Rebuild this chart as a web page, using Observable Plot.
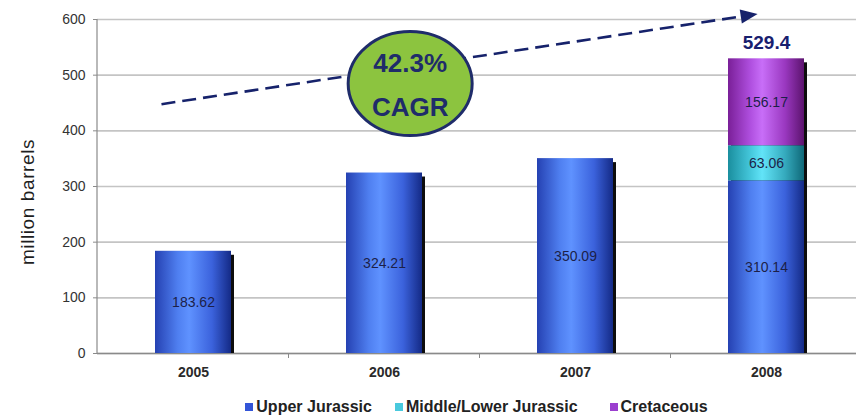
<!DOCTYPE html>
<html>
<head>
<meta charset="utf-8">
<script src="https://cdn.jsdelivr.net/npm/d3@7"></script>
<script src="https://cdn.jsdelivr.net/npm/@observablehq/plot@0.6"></script>
<style>
  body { margin: 0; background: #fff; font-family: "Liberation Sans", Arial, sans-serif; }
  #chart { width: 856px; height: 419px; overflow: hidden; }
  .legend { display: flex; justify-content: center; align-items: center; height: 24px; padding-left: 97px; font-weight: bold; font-size: 16px; color: #222; letter-spacing: 0px; }
  .legend span.item { display: flex; align-items: center; }
  .legend span.item:nth-child(2) { margin-left: 23px; }
  .legend span.item:nth-child(3) { margin-left: 32px; }
  .legend i { display: inline-block; width: 8px; height: 8px; margin-right: 3px; }
</style>
</head>
<body>
<div id="chart"></div>
<script>
// ---- data ----
const years = ["2005", "2006", "2007", "2008"];
const seriesNames = ["Upper Jurassic", "Middle/Lower Jurassic", "Cretaceous"];
const upperJurassic = [183.62, 324.21, 350.09, 310.14];
const middleLowerJurassic = [null, null, null, 63.06];
const cretaceous = [null, null, null, 156.17];
const totalLabels = [null, null, null, "529.4"];
const yTicks = [0, 100, 200, 300, 400, 500, 600];
const yLabel = "million barrels";
const cagrText = ["42.3%", "CAGR"];
// annotation anchors in data space (category + fraction of a category step, value)
const cagrBubble = {year: "2006", offset: 0.137, value: 484};
const cagrArrow = {fromYear: "2005", fromOffset: -0.165, fromValue: 447, toYear: "2008", toOffset: -0.044, toValue: 609};

// ---- styles ----
const gradients = {
  gUJ: ["#2541b2", "#4f7ff0", "#5f92ff", "#3b62dc", "#142a86"],
  gML: ["#1a8e9e", "#45c8dc", "#62e4f8", "#35aabd", "#0f6878"],
  gCr: ["#7a1f98", "#b050e0", "#c86ef8", "#9a38c0", "#5c136e"]
};
const seriesFill = ["url(#gUJ)", "url(#gML)", "url(#gCr)"];
const legendSwatch = ["#3355d8", "#49c9dd", "#9b3fcf"];
const navy = "#16226b";

const allSeries = [upperJurassic, middleLowerJurassic, cretaceous];
const rows = [];
const totals = [];
years.forEach((year, i) => {
  let base = 0;
  allSeries.forEach((arr, s) => {
    const v = arr[i];
    if (v != null) {
      rows.push({year, series: seriesNames[s], y1: base, y2: base + v, mid: base + v / 2, label: v.toFixed(2)});
      base += v;
    }
  });
  totals.push({year, total: base, label: totalLabels[i]});
});

const NS = "http://www.w3.org/2000/svg";
function el(tag, attrs, text) {
  const e = document.createElementNS(NS, tag);
  for (const k in attrs) e.setAttribute(k, attrs[k]);
  if (text != null) e.textContent = text;
  return e;
}

function defsMark() {
  const defs = el("defs", {});
  for (const id in gradients) {
    const g = el("linearGradient", {id, x1: "0", x2: "1", y1: "0", y2: "0"});
    const stops = gradients[id];
    const offs = [0, 0.3, 0.45, 0.75, 1];
    stops.forEach((c, j) => g.appendChild(el("stop", {offset: offs[j], "stop-color": c})));
    defs.appendChild(g);
  }
  return defs;
}

function bandInfo(x) {
  const bw = typeof x.bandwidth === "function" ? x.bandwidth() : (x.bandwidth || 0);
  const step = x(years[1]) - x(years[0]);
  const cx = (cat, off) => x(cat) + bw / 2 + off * step;
  return {bw, step, cx};
}

function axesMark(index, scales, values, dim) {
  const {x, y} = scales;
  const {step, cx} = bandInfo(x);
  const g = el("g", {});
  g.appendChild(el("line", {x1: dim.marginLeft, x2: dim.marginLeft, y1: y(600), y2: y(0), stroke: "#8a8a8a", "stroke-width": 1.2}));
  years.forEach((yr) => {
    const bx = cx(yr, 0) + step / 2;
    g.appendChild(el("line", {x1: bx, x2: bx, y1: y(0), y2: y(0) + 5, stroke: "#8a8a8a", "stroke-width": 1}));
  });
  // y-axis title
  const lx = dim.marginLeft - 70;
  const ly = (dim.marginTop + dim.height - dim.marginBottom) / 2 + 16;
  g.appendChild(el("text", {transform: `translate(${lx},${ly}) rotate(-90)`, "text-anchor": "middle", "dominant-baseline": "central", "font-size": 19, "letter-spacing": "0.6", fill: "#1e1e1e"}, yLabel));
  return g;
}

function cagrMark(index, scales, values, dim) {
  const {x, y} = scales;
  const {cx} = bandInfo(x);
  const g = el("g", {});
  const x1 = cx(cagrArrow.fromYear, cagrArrow.fromOffset), y1 = y(cagrArrow.fromValue);
  const x2 = cx(cagrArrow.toYear, cagrArrow.toOffset), y2 = y(cagrArrow.toValue);
  const a = Math.atan2(y2 - y1, x2 - x1);
  const head = 17, half = 7;
  const bx = x2 - head * Math.cos(a), by = y2 - head * Math.sin(a);
  g.appendChild(el("line", {x1, y1, x2: bx, y2: by, stroke: navy, "stroke-width": 2.6, "stroke-dasharray": "14,7"}));
  const px = -Math.sin(a) * half, py = Math.cos(a) * half;
  g.appendChild(el("polygon", {points: `${x2},${y2} ${bx + px},${by + py} ${bx - px},${by - py}`, fill: navy}));
  const ex = cx(cagrBubble.year, cagrBubble.offset), ey = y(cagrBubble.value);
  g.appendChild(el("ellipse", {cx: ex, cy: ey, rx: 62, ry: 52, fill: "#8cc43f", stroke: "#1f2c6a", "stroke-width": 3}));
  g.appendChild(el("text", {x: ex, y: ey - 21, "text-anchor": "middle", "dominant-baseline": "central", "font-size": 26, "font-weight": "bold", fill: "#1f2c6a"}, cagrText[0]));
  g.appendChild(el("text", {x: ex, y: ey + 23, "text-anchor": "middle", "dominant-baseline": "central", "font-size": 26, "font-weight": "bold", fill: "#1f2c6a"}, cagrText[1]));
  return g;
}

const chart = Plot.plot({
  width: 856,
  height: 395,
  marginLeft: 97,
  marginRight: 0,
  marginTop: 19,
  marginBottom: 42,
  style: {fontFamily: "'Liberation Sans', Arial, sans-serif", background: "#fff", overflow: "visible"},
  x: {domain: years, range: [97, 862], paddingInner: 0.6, paddingOuter: 0.3, axis: null},
  y: {domain: [0, 600], axis: null},
  color: {domain: seriesNames, range: seriesFill},
  marks: [
    defsMark,
    Plot.gridY(yTicks, {stroke: "#c4c4c4", strokeOpacity: 1, strokeWidth: 1.6}),
    Plot.ruleY([0], {stroke: "#8a8a8a", strokeWidth: 1.4}),
    Plot.axisY({ticks: yTicks, tickSize: 4, tickPadding: 8, fontSize: 14, stroke: "#8a8a8a", fill: "#333", label: null}),
    Plot.text(years, {x: d => d, frameAnchor: "bottom", dy: 23, text: d => d, fontSize: 14, fontWeight: "bold", fill: "#2a2a2a"}),
    axesMark,
    Plot.barY(totals, {x: "year", y1: 0, y2: "total", fill: "#0d0d0d", dx: 3, insetTop: 4}),
    Plot.barY(rows, {x: "year", y1: "y1", y2: "y2", fill: "series"}),
    Plot.text(rows, {x: "year", y: "mid", text: "label", fontSize: 14, fill: "#1c1f48"}),
    cagrMark,
    Plot.text(totals.filter(d => d.label), {x: "year", y: "total", text: "label", dy: -16, fontSize: 19, fontWeight: "bold", fill: "#18206e"})
  ]
});

const root = document.getElementById("chart");
root.appendChild(chart);

const legend = document.createElement("div");
legend.className = "legend";
seriesNames.forEach((name, i) => {
  const item = document.createElement("span");
  item.className = "item";
  const sw = document.createElement("i");
  sw.style.background = legendSwatch[i];
  item.appendChild(sw);
  item.appendChild(document.createTextNode(name));
  legend.appendChild(item);
});
root.appendChild(legend);
</script>
</body>
</html>
